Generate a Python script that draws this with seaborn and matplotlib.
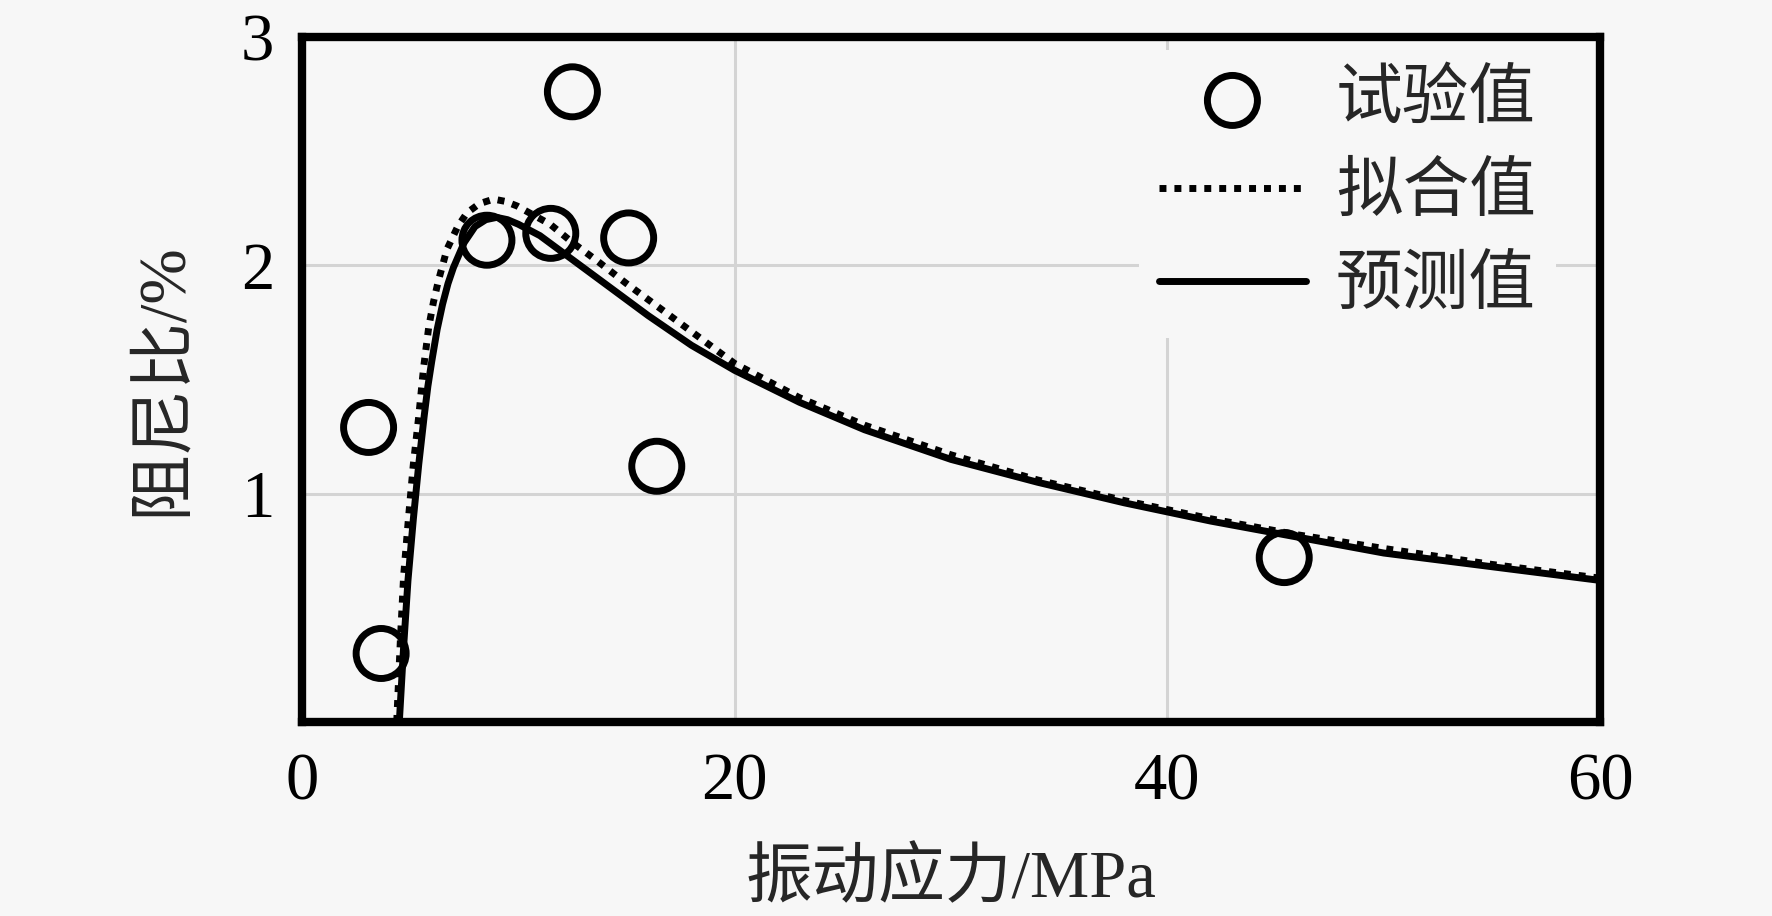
import numpy as np
import pandas as pd
import matplotlib
matplotlib.use("Agg")
import matplotlib.pyplot as plt
import seaborn as sns

# test points (vibration stress MPa, damping ratio %)
test_x = [3.08, 3.66, 8.55, 11.5, 12.5, 15.1, 16.4, 45.4]
test_y = [1.29, 0.30, 2.11, 2.14, 2.76, 2.12, 1.12, 0.72]

# fitted curve (dotted)
fit_x = [4.38, 4.55, 4.70, 4.93, 5.15, 5.40, 5.62, 5.86, 6.08, 6.30, 6.50, 6.70,
         6.95, 7.20, 7.63, 8.20, 8.86, 9.40, 9.94, 10.7, 11.47, 12.5, 13.64,
         15.0, 16.72, 18.0, 20.0, 23.0, 26.0, 30.0, 34.0, 38.0, 42.0, 46.0,
         50.0, 55.0, 60.0]
fit_y = [0.00, 0.36, 0.64, 0.90, 1.13, 1.34, 1.55, 1.73, 1.84, 1.93, 2.00, 2.07,
         2.12, 2.17, 2.23, 2.27, 2.29, 2.28, 2.26, 2.22, 2.18, 2.10, 2.02,
         1.92, 1.80, 1.71, 1.57, 1.42, 1.30, 1.17, 1.06, 0.97, 0.89, 0.82,
         0.76, 0.69, 0.63]

# predicted curve (solid)
pred_x = [4.50, 4.70, 4.90, 5.15, 5.40, 5.65, 5.82, 6.00, 6.25, 6.50, 6.75, 7.00,
          7.50, 8.00, 8.50, 9.00, 9.50, 10.0, 11.0, 12.0, 13.0, 14.0, 16.0,
          18.0, 20.0, 23.0, 26.0, 30.0, 34.0, 38.0, 42.0, 46.0, 50.0, 55.0, 60.0]
pred_y = [0.00, 0.33, 0.62, 0.89, 1.13, 1.34, 1.47, 1.58, 1.72, 1.83, 1.92, 1.99,
          2.10, 2.17, 2.20, 2.21, 2.20, 2.18, 2.13, 2.06, 1.99, 1.92, 1.78,
          1.65, 1.54, 1.40, 1.28, 1.15, 1.05, 0.96, 0.88, 0.81, 0.74, 0.68, 0.62]

x_ticks = [0, 20, 40, 60]
y_ticks = [1, 2, 3]

bg = "#f7f7f7"
sns.set_theme(style="white")
plt.rcParams["font.family"] = ["Liberation Serif", "Noto Sans CJK SC"]
plt.rcParams["axes.unicode_minus"] = False

fig = plt.figure(figsize=(17.72, 9.16), dpi=100, facecolor=bg)
ax = fig.add_axes([0.1704, 0.2118, 0.903 - 0.1704, 0.9596 - 0.2118])
ax.set_facecolor(bg)

df_test = pd.DataFrame({"x": test_x, "y": test_y})
df_fit = pd.DataFrame({"x": fit_x, "y": fit_y})
df_pred = pd.DataFrame({"x": pred_x, "y": pred_y})

sns.scatterplot(data=df_test, x="x", y="y", ax=ax, marker="o", s=1296,
                facecolor="none", edgecolor="black", linewidth=5,
                label="试验值", zorder=5)
ax.collections[0].set_facecolor("none")

sns.lineplot(data=df_fit, x="x", y="y", ax=ax, color="black", linewidth=5,
             dashes=False, sort=False, estimator=None, label="拟合值", zorder=4)
sns.lineplot(data=df_pred, x="x", y="y", ax=ax, color="black", linewidth=5,
             sort=False, estimator=None, label="预测值", zorder=4)
ax.lines[0].set_dashes((1, 1.15))
ax.lines[0].set_dash_capstyle("butt")

ax.set_xlim(0, 60)
ax.set_ylim(0, 3)
ax.set_xticks(x_ticks)
ax.set_yticks(y_ticks)
ax.tick_params(axis="both", direction="in", length=12, width=4,
               labelsize=48, colors="black")
ax.tick_params(axis="x", pad=22)
ax.tick_params(axis="y", pad=20)

ax.grid(True, color="#d4d4d4", linewidth=2.2)
ax.set_axisbelow(True)
for sp in ax.spines.values():
    sp.set_visible(True)
    sp.set_linewidth(6)
    sp.set_color("black")

ax.set_xlabel("振动应力/MPa", fontsize=48)
ax.set_ylabel("阻尼比/%", fontsize=48)
ax.xaxis.set_label_coords(0.5, -0.185)
ax.yaxis.set_label_coords(-0.083, 0.5)

leg = ax.legend(loc="upper right", bbox_to_anchor=(0.976, 1.0), fontsize=48,
                frameon=True, facecolor=bg, edgecolor="none", framealpha=1,
                handlelength=2.2, handletextpad=0.45, labelspacing=0.48,
                borderaxespad=0.2, borderpad=0.3, fancybox=False)

fig.savefig("out.png", dpi=100, facecolor=bg)
